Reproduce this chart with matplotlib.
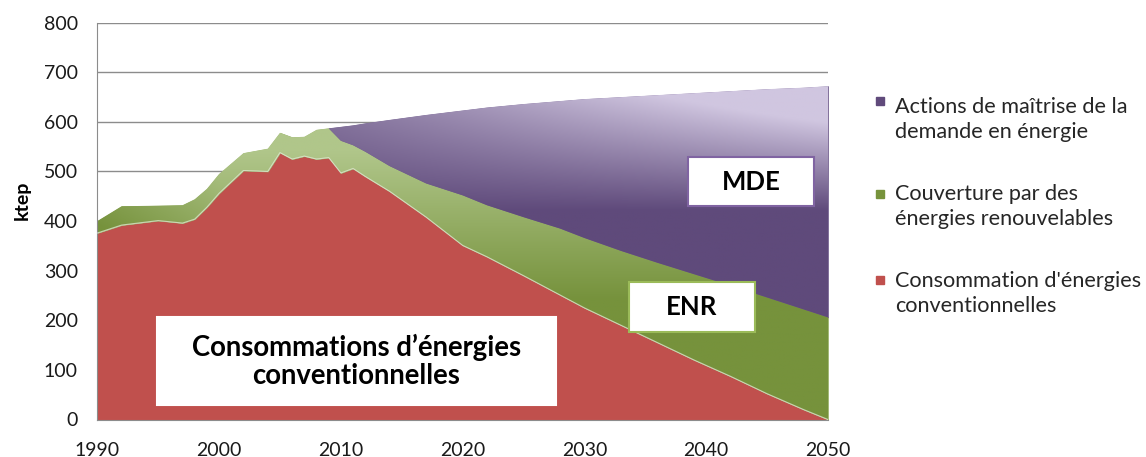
import numpy as np
import matplotlib.pyplot as plt
from matplotlib.patches import Rectangle
from matplotlib.colors import LinearSegmentedColormap

# values (ktep)
years = [1990, 1992, 1995, 1997, 1998, 1999, 2000, 2002, 2004, 2005, 2006, 2007,
         2008, 2009, 2010, 2011, 2012, 2014, 2017, 2020, 2022, 2025, 2028, 2030,
         2033, 2036, 2039, 2042, 2045, 2048, 2050]
conventional = [376, 392, 401, 396, 404, 428, 456, 502, 500, 538, 525, 531,
                525, 528, 497, 506, 490, 460, 408, 351, 328, 290, 251, 225,
                190, 155, 120, 87, 52, 20, 0]
renewables = [24, 38, 30, 36, 40, 37, 39, 35, 46, 40, 44, 39,
              59, 59, 65, 47, 50, 51, 68, 101, 104, 118, 134, 141,
              150, 161, 173, 183, 194, 202, 206]
mde = [0, 0, 0, 0, 0, 0, 0, 0, 0, 0, 0, 0,
       0, 0, 28, 40, 57, 93, 138, 171, 197, 228, 257, 280,
       310, 338, 365, 392, 420, 447, 466]

legend_labels = ["Actions de maîtrise de la\ndemande en énergie",
                 "Couverture par des\nénergies renouvelables",
                 "Consommation d'énergies\nconventionnelles"]
legend_colors = ['#604a7b', '#77933c', '#c0504d']

plt.rcParams['font.family'] = ['Lato', 'DejaVu Sans']

W, H = 1146, 457
fig = plt.figure(figsize=(W / 100, H / 100), dpi=100)
ax = fig.add_axes([97.3 / W, (H - 419.5) / H, (828 - 97.3) / W, (419.5 - 22.7) / H])

x = np.array(years)
c = np.array(conventional)
r = np.array(renewables)
m = np.array(mde)
top_enr = c + r
top_mde = top_enr + m
start = int(np.argmax(m > 0)) - 1


def gradient_fill(coll, func, c0, c1):
    cmap = LinearSegmentedColormap.from_list('g', [c0, c1])
    X, V = np.meshgrid(np.linspace(1990, 2050, 400), np.linspace(0, 800, 500))
    im = ax.imshow(np.clip(func(X, V), 0, 1), extent=[1990, 2050, 0, 800], origin='lower',
                   aspect='auto', cmap=cmap, vmin=0, vmax=1, zorder=2, interpolation='bilinear')
    im.set_clip_path(coll.get_paths()[0], transform=ax.transData)
    return im


ax.fill_between(x, 0, c, color='#c0504d', lw=0, zorder=2)
green = ax.fill_between(x, c, top_enr, color='#93ad62', lw=0.5, zorder=2)
purple = ax.fill_between(x[start:], top_enr[start:], top_mde[start:], color='#6f5b8c', lw=0.5, zorder=2)
gradient_fill(green, lambda X, V: (V - 240) / 300 - 0.5 * np.clip((2000 - X) / 10, 0, 1),
              '#76923c', '#b0c68a')
gradient_fill(purple, lambda X, V: (V - 420) * (0.002 + (X - 2012) / 38 * 0.0036),
              '#5f4a7b', '#d0c6e0')
ax.plot(x, c, color='white', lw=0.8, alpha=0.55, zorder=3)

ax.set_xlim(1990, 2050)
ax.set_ylim(0, 800)
ax.set_xticks(range(1990, 2051, 10))
ax.set_yticks(range(0, 801, 100))
ax.grid(axis='y', color='#8c8c8c', lw=1)
ax.set_axisbelow(True)
for s in ['top', 'right']:
    ax.spines[s].set_visible(False)
for s in ['left', 'bottom']:
    ax.spines[s].set_color('#8c8c8c')
ax.tick_params(axis='both', length=0, labelsize=14, colors='#1a1a1a')
ax.tick_params(axis='x', pad=16)
ax.tick_params(axis='y', pad=14)

fig.text(22.7 / W, 1 - 200 / H, 'ktep', rotation=90, fontweight='bold', fontsize=14,
         ha='center', va='center')

# legend drawn by hand so the marker sits on the first line
sq_tops = [97.3, 190, 276]
baselines = [112.7, 200, 286.7]
for lab, col, st, bl in zip(legend_labels, legend_colors, sq_tops, baselines):
    fig.add_artist(Rectangle((876 / W, 1 - (st + 8) / H), 8 / W, 8 / H,
                             transform=fig.transFigure, color=col))
    for i, line in enumerate(lab.split('\n')):
        fig.text(895 / W, 1 - (bl + i * 25) / H, line, fontsize=15.6, color='#262626',
                 ha='left', va='baseline')

# annotation boxes
boxes = [((157, 317, 556, 405), 'Consommations d’énergies\nconventionnelles', 'white', 19.8),
         ((629, 282, 755, 332), 'ENR', '#9bbb59', 18.5),
         ((688, 157, 814, 206), 'MDE', '#8064a2', 18.5)]
for (x0, y0, x1, y1), txt, ec, fs in boxes:
    fig.add_artist(Rectangle((x0 / W, 1 - y1 / H), (x1 - x0) / W, (y1 - y0) / H,
                             transform=fig.transFigure, facecolor='white', edgecolor=ec, lw=1.5))
    fig.text((x0 + x1) / 2 / W, 1 - (y0 + y1) / 2 / H, txt, fontsize=fs, fontweight='bold',
             ha='center', va='center', linespacing=1.1)

fig.savefig('out.png', dpi=100)
